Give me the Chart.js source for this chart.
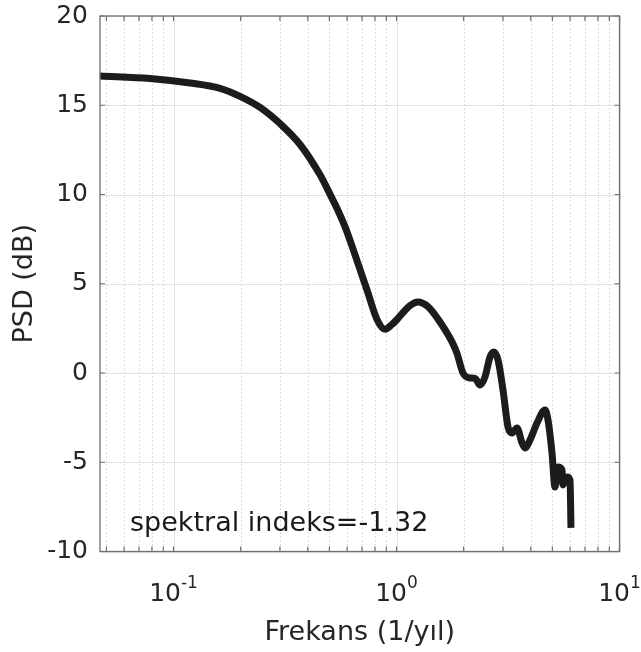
<!DOCTYPE html>
<html>
<head>
<meta charset="utf-8">
<script src="https://cdn.jsdelivr.net/npm/chart.js@4"></script>
<style>
  body { margin: 0; background: #fff; }
  canvas { display: block; }
</style>
</head>
<body>
<canvas id="psd-chart" width="641" height="652"></canvas>
<script>
// frekans (1/yıl) ve PSD (dB) değerleri
const freqs = [
  0.0468, 0.0784, 0.1186, 0.1616, 0.1987, 0.2443, 0.3034, 0.3693, 0.4539,
  0.5031, 0.5411, 0.5875, 0.6381, 0.686, 0.7374, 0.8176, 0.888, 0.9546, 1.005,
  1.15, 1.248, 1.384, 1.567, 1.774, 1.867, 1.987, 2.136, 2.249, 2.368,
  2.494, 2.626, 2.737, 2.852, 3.003, 3.162, 3.296, 3.471, 3.655, 3.77,
  3.969, 4.267, 4.634, 4.779, 4.981, 5.138, 5.3, 5.524, 5.58, 5.816,
  5.998, 6.06
];
const psd = [
  16.64, 16.5, 16.25, 15.95, 15.5, 14.88, 13.92, 12.8, 11.1,
  10.02, 9.22, 8.2, 6.95, 5.8, 4.65, 3.0, 2.45, 2.72, 3.0,
  3.78, 3.98, 3.72, 2.86, 1.74, 1.1, 0.0, -0.28, -0.3, -0.67,
  -0.22, 0.9, 1.18, 0.73, -0.95, -3.02, -3.36, -3.08, -3.92, -4.2,
  -3.75, -2.8, -2.07, -2.63, -4.48, -6.39, -5.27, -5.43, -6.27, -5.83,
  -6.0, -8.68
];

const xMajor = [0.1, 1, 10];
const xMinor = [0.05, 0.06, 0.07, 0.08, 0.09, 0.2, 0.3, 0.4, 0.5, 0.6, 0.7, 0.8, 0.9,
  2, 3, 4, 5, 6, 7, 8, 9];
const xTickLabels = [["10", "-1"], ["10", "0"], ["10", "1"]];
const yMin = -10, yMax = 20, yStep = 5;
const annotation = "spektral indeks=-1.32";

const FONT = "'DejaVu Sans', sans-serif";
const TEXT = "#262626";

// MATLAB tarzı ızgara, kutu ve tik işaretleri
const matlabAxes = {
  id: "matlabAxes",
  beforeDatasetsDraw(chart) {
    const { ctx, chartArea: a, scales: { x, y } } = chart;
    ctx.save();
    ctx.lineWidth = 1;
    // minor dikey çizgiler (noktalı)
    ctx.strokeStyle = "#dcdcdc";
    ctx.setLineDash([2, 2]);
    xMinor.forEach((v) => {
      const px = Math.round(x.getPixelForValue(v)) + 0.5;
      ctx.beginPath();
      ctx.moveTo(px, a.top);
      ctx.lineTo(px, a.bottom);
      ctx.stroke();
    });
    ctx.setLineDash([]);
    // major çizgiler
    ctx.strokeStyle = "#e2e2e2";
    xMajor.forEach((v) => {
      const px = Math.round(x.getPixelForValue(v)) + 0.5;
      ctx.beginPath();
      ctx.moveTo(px, a.top);
      ctx.lineTo(px, a.bottom);
      ctx.stroke();
    });
    for (let v = yMin; v <= yMax; v += yStep) {
      const py = Math.round(y.getPixelForValue(v)) + 0.5;
      ctx.beginPath();
      ctx.moveTo(a.left, py);
      ctx.lineTo(a.right, py);
      ctx.stroke();
    }
    ctx.restore();
  },
  afterDatasetsDraw(chart) {
    const { ctx, chartArea: a, scales: { x, y } } = chart;
    ctx.save();
    ctx.strokeStyle = "#707070";
    ctx.lineWidth = 1.3;
    ctx.strokeRect(a.left, a.top, a.right - a.left, a.bottom - a.top);
    ctx.lineWidth = 1.2;
    const tl = 5;
    xMajor.concat(xMinor).forEach((v) => {
      const px = x.getPixelForValue(v);
      ctx.beginPath();
      ctx.moveTo(px, a.bottom);
      ctx.lineTo(px, a.bottom - tl);
      ctx.moveTo(px, a.top);
      ctx.lineTo(px, a.top + tl);
      ctx.stroke();
    });
    for (let v = yMin; v <= yMax; v += yStep) {
      const py = y.getPixelForValue(v);
      ctx.beginPath();
      ctx.moveTo(a.left, py);
      ctx.lineTo(a.left + tl, py);
      ctx.moveTo(a.right, py);
      ctx.lineTo(a.right - tl, py);
      ctx.stroke();
    }
    ctx.restore();
  },
  afterDraw(chart) {
    const { ctx, chartArea: a, scales: { x } } = chart;
    ctx.save();
    ctx.fillStyle = TEXT;
    ctx.textBaseline = "alphabetic";
    // 10^n etiketleri
    xMajor.forEach((v, i) => {
      const [base, exp] = xTickLabels[i];
      ctx.font = "25px " + FONT;
      const wb = ctx.measureText(base).width;
      ctx.font = "17px " + FONT;
      const we = ctx.measureText(exp).width;
      const px = x.getPixelForValue(v);
      const left = px - (wb + we) / 2;
      ctx.font = "25px " + FONT;
      ctx.textAlign = "left";
      ctx.fillText(base, left, a.bottom + 49);
      ctx.font = "17px " + FONT;
      ctx.fillText(exp, left + wb, a.bottom + 36);
    });
    ctx.font = "27px " + FONT;
    ctx.fillStyle = "#1a1a1a";
    ctx.textAlign = "left";
    ctx.fillText(annotation, 130, 531);
    ctx.restore();
  },
};

const ctx = document.getElementById("psd-chart").getContext("2d");

new Chart(ctx, {
  type: "line",
  data: {
    datasets: [
      {
        data: freqs.map((f, i) => ({ x: f, y: psd[i] })),
        borderColor: "#1c1c1c",
        borderWidth: 7,
        pointRadius: 0,
        fill: false,
        cubicInterpolationMode: "monotone",
        borderJoinStyle: "round",
        borderCapStyle: "butt",
      },
    ],
  },
  options: {
    responsive: false,
    animation: false,
    devicePixelRatio: 1,
    layout: { padding: { top: 16, right: 21.5, left: 0, bottom: 0 } },
    plugins: {
      legend: { display: false },
      tooltip: { enabled: false },
    },
    scales: {
      x: {
        type: "logarithmic",
        min: 0.0468,
        max: 10,
        grid: { display: false, drawTicks: false },
        border: { display: false },
        ticks: { display: false },
        title: {
          display: true,
          text: "Frekans (1/yıl)",
          color: TEXT,
          font: { family: FONT, size: 27 },
          padding: { top: 0, bottom: 3 },
        },
        afterFit(scale) {
          scale.height = 100.5;
          scale.paddingLeft = 0;
          scale.paddingRight = 0;
        },
      },
      y: {
        min: yMin,
        max: yMax,
        grid: { display: false, drawTicks: false },
        border: { display: false },
        ticks: {
          stepSize: yStep,
          color: TEXT,
          padding: 12,
          font: { family: FONT, size: 25 },
        },
        title: {
          display: true,
          text: "PSD (dB)",
          color: TEXT,
          font: { family: FONT, size: 27 },
          padding: { top: 9, bottom: 0 },
        },
        afterFit(scale) {
          scale.width = 100;
          scale.paddingTop = 0;
          scale.paddingBottom = 0;
        },
      },
    },
  },
  plugins: [matlabAxes],
});
</script>
</body>
</html>
